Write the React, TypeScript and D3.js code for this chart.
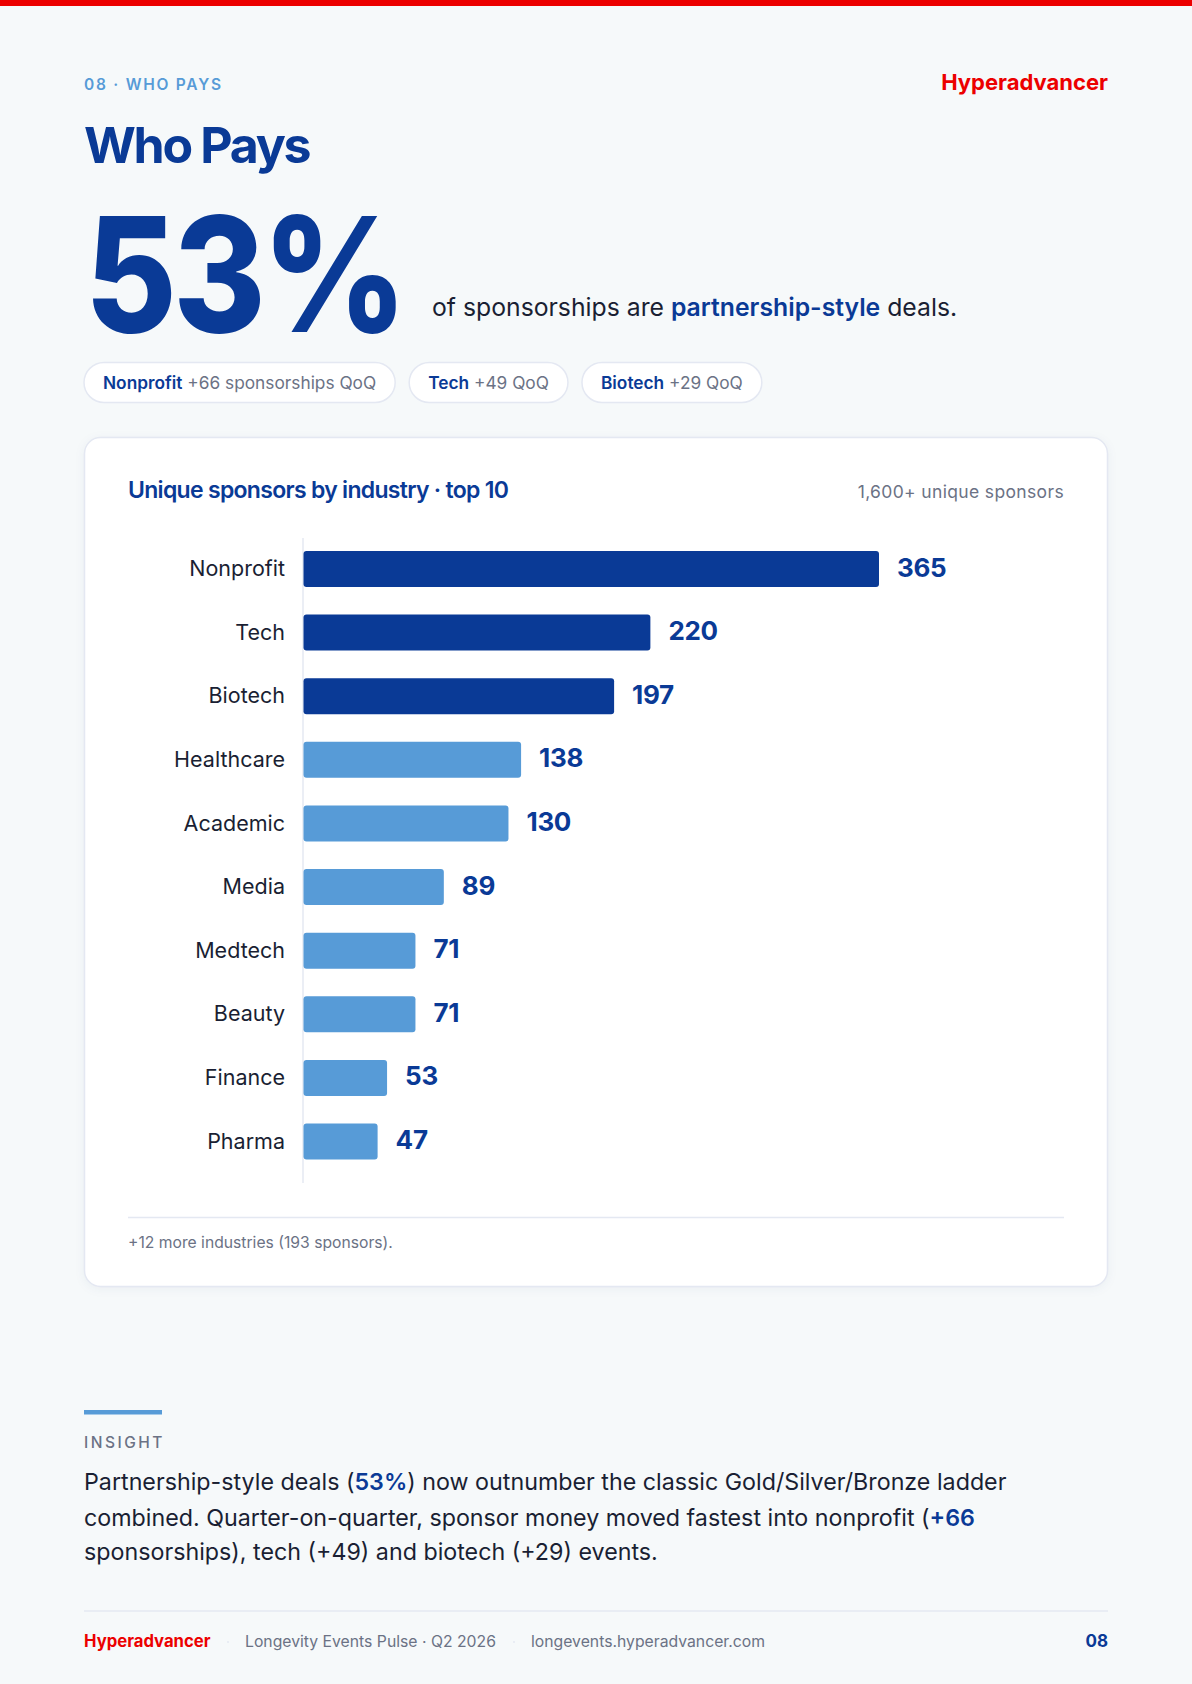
import React, { useEffect, useRef } from "react";
import * as d3 from "d3";

const industries = ["Nonprofit", "Tech", "Biotech", "Healthcare", "Academic", "Media", "Medtech", "Beauty", "Finance", "Pharma"];
const sponsors = [365, 220, 197, 138, 130, 89, 71, 71, 53, 47];
const highlighted = ["Nonprofit", "Tech", "Biotech"];

const pillNames = ["Nonprofit", "Tech", "Biotech"];
const pillNotes = ["+66 sponsorships QoQ", "+49 QoQ", "+29 QoQ"];

// [text, emphasised]
const headlineRuns: Array<[string, boolean]> = [
  ["of sponsorships are ", false],
  ["partnership-style", true],
  [" deals.", false],
];
const insightLines: Array<Array<[string, boolean]>> = [
  [["Partnership-style deals (", false], ["53%", true], [") now outnumber the classic Gold/Silver/Bronze ladder", false]],
  [["combined. Quarter-on-quarter, sponsor money moved fastest into nonprofit (", false], ["+66", true]],
  [["sponsorships), tech (+49) and biotech (+29) events.", false]],
];

const NAVY = "#0a3a96";
const SKY = "#579bd7";
const RED = "#ec0000";
const INK = "#1a1f33";
const GREY = "#6b7285";
const RULE = "#e4e8f2";
const SANS = "Inter, sans-serif";

export default function App() {
  const ref = useRef<SVGSVGElement | null>(null);

  useEffect(() => {
    if (!ref.current) return;
    const svg = d3.select(ref.current);
    svg.selectAll("*").remove();
    svg.attr("font-family", SANS);

    const label = (x: number, y: number, text: string, size: number, weight: number, fill: string) =>
      svg.append("text").attr("x", x).attr("y", y).attr("font-size", size).attr("font-weight", weight).attr("fill", fill).text(text);

    const runs = (x: number, y: number, parts: Array<[string, boolean]>, size: number, fill: string, weight = 400) => {
      const t = svg.append("text").attr("x", x).attr("y", y).attr("font-size", size).attr("fill", fill).style("white-space", "pre");
      parts.forEach(([s, em]) => {
        t.append("tspan")
          .attr("font-weight", em ? 600 : weight)
          .attr("fill", em ? NAVY : fill)
          .text(s);
      });
      return t;
    };

    // page
    svg.append("rect").attr("width", 1192).attr("height", 1684).attr("fill", "#f6f9fa");
    svg.append("rect").attr("width", 1192).attr("height", 6).attr("fill", RED);

    // header
    label(84, 90, "08 · WHO PAYS", 15.5, 600, SKY).attr("letter-spacing", "1.75px");
    label(1108, 90, "Hyperadvancer", 22, 700, RED).attr("text-anchor", "end");
    label(84, 162.5, "Who Pays", 50, 700, NAVY).attr("letter-spacing", "-2.3px");
    // the big number is squeezed a little, Inter's digits run wider than the original face
    label(0, 0, "53%", 160, 800, NAVY)
      .attr("letter-spacing", "-4px")
      .attr("transform", "translate(85,332) scale(0.88,1)");
    runs(432, 316, headlineRuns, 24.75, INK);

    // pills
    let pillX = 84;
    pillNames.forEach((name, i) => {
      const g = svg.append("g");
      const rect = g.append("rect").attr("y", 362.5).attr("height", 40).attr("rx", 20).attr("fill", "#fff").attr("stroke", RULE).attr("stroke-width", 1.5);
      const t = g.append("text").attr("y", 389).attr("font-size", 17.3).style("white-space", "pre");
      t.append("tspan").attr("font-weight", 600).attr("fill", NAVY).text(name);
      t.append("tspan").attr("fill", GREY).text(" " + pillNotes[i]);
      const w = (t.node() as SVGTextElement).getComputedTextLength() + 38;
      rect.attr("x", pillX).attr("width", w);
      t.attr("x", pillX + 19);
      pillX += w + 14;
    });

    // card
    svg.append("rect").attr("x", 84.5).attr("y", 437.5).attr("width", 1023).attr("height", 849).attr("rx", 16)
      .attr("fill", "#fff").attr("stroke", RULE).attr("stroke-width", 1.5)
      .style("filter", "drop-shadow(0 2px 5px rgba(20,40,90,0.05))");
    label(128, 498, "Unique sponsors by industry · top 10", 23, 600, NAVY).attr("letter-spacing", "-0.7px");
    label(1064, 498, "1,600+ unique sponsors", 17.5, 400, GREY).attr("text-anchor", "end").attr("letter-spacing", "0.35px");

    // bars
    const x = d3.scaleLinear().domain([0, 365]).range([303.5, 879]);
    const y = d3.scaleBand<string>().domain(industries).range([537.2, 1173.3]).paddingInner(0.434).paddingOuter(0.217);

    svg.append("line").attr("x1", 303).attr("x2", 303).attr("y1", 538).attr("y2", 1183).attr("stroke", RULE).attr("stroke-width", 1.5);

    const axis = svg.append("g").attr("transform", "translate(303,0)")
      .call(d3.axisLeft(y).tickSize(0).tickPadding(18));
    axis.select(".domain").remove();
    axis.selectAll("text").attr("font-family", SANS).attr("font-size", 21.5).attr("fill", INK).attr("dy", "0.33em");

    const data = industries.map((name, i) => ({ name, value: sponsors[i] }));
    svg.append("g").selectAll("rect").data(data).join("rect")
      .attr("x", x(0))
      .attr("y", (d) => y(d.name) as number)
      .attr("width", (d) => x(d.value) - x(0))
      .attr("height", y.bandwidth())
      .attr("rx", 3)
      .attr("fill", (d) => (highlighted.includes(d.name) ? NAVY : SKY));
    svg.append("g").selectAll("text").data(data).join("text")
      .attr("x", (d) => x(d.value) + 18)
      .attr("y", (d) => (y(d.name) as number) + y.bandwidth() / 2 + 7.5)
      .attr("font-size", 26)
      .attr("font-weight", 700)
      .attr("letter-spacing", "-0.3px")
      .attr("fill", NAVY)
      .text((d) => d.value);

    svg.append("line").attr("x1", 128).attr("x2", 1064).attr("y1", 1217.5).attr("y2", 1217.5).attr("stroke", RULE).attr("stroke-width", 1.5);
    label(128, 1248, "+12 more industries (193 sponsors).", 15.7, 400, GREY);

    // insight
    svg.append("rect").attr("x", 84).attr("y", 1410).attr("width", 78).attr("height", 4.5).attr("fill", SKY);
    label(84, 1448, "INSIGHT", 15.5, 500, GREY).attr("letter-spacing", "2.5px");
    insightLines.forEach((line, i) => {
      runs(84, [1490, 1526, 1560][i], line, 23.25, INK);
    });

    // footer
    svg.append("line").attr("x1", 84).attr("x2", 1108).attr("y1", 1611).attr("y2", 1611).attr("stroke", RULE).attr("stroke-width", 1.5);
    label(84, 1647, "Hyperadvancer", 16.7, 700, RED);
    label(245, 1646.5, "Longevity Events Pulse · Q2 2026", 15.75, 400, GREY);
    label(531, 1646.5, "longevents.hyperadvancer.com", 15.75, 400, GREY);
    label(1108, 1647, "08", 17, 700, NAVY).attr("text-anchor", "end");
    [228, 514].forEach((cx) => svg.append("circle").attr("cx", cx).attr("cy", 1642).attr("r", 1).attr("fill", RULE));
  }, []);

  return <svg ref={ref} width={1192} height={1684} style={{ position: "absolute", top: 0, left: 0, display: "block" }} />;
}
